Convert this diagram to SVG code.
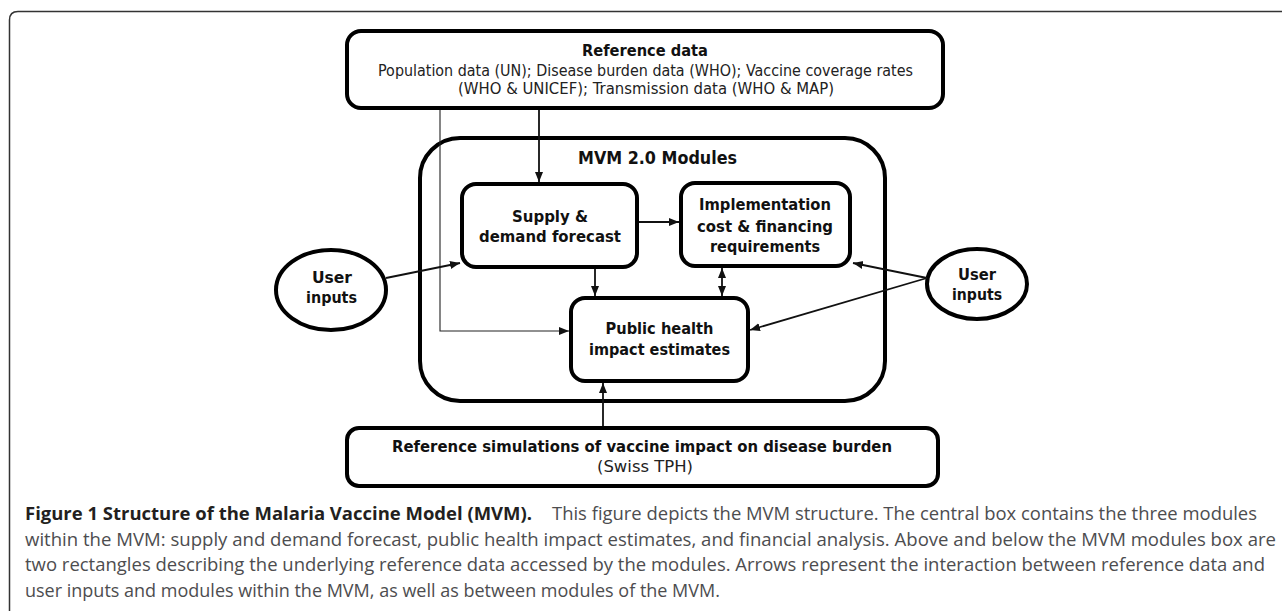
<svg xmlns="http://www.w3.org/2000/svg" width="1282" height="611" viewBox="0 0 1282 611">
<style>
.box{fill:#fff;stroke:#000;stroke-width:4}
.lbl{font-family:"DejaVu Sans","Liberation Sans",sans-serif;font-size:16px;font-weight:bold;fill:#111;text-anchor:middle}
.reg{font-family:"DejaVu Sans","Liberation Sans",sans-serif;font-size:15px;fill:#222;text-anchor:middle}
.con{fill:none;stroke:#111;stroke-width:1.8}
.thin{fill:none;stroke:#222;stroke-width:1.1}
.cap{font-family:"Open Sans","Liberation Sans",sans-serif;font-size:18px;fill:#4d4d4f}
.capb{font-family:"Open Sans","Liberation Sans",sans-serif;font-size:18px;font-weight:bold;fill:#231f20}
</style>
<defs>
<marker id="ah" markerUnits="userSpaceOnUse" markerWidth="10" markerHeight="10" viewBox="0 0 10 10" refX="10" refY="5" orient="auto">
<path d="M0,1 L10,5 L0,9 Z" fill="#111"/>
</marker>
<marker id="as" markerUnits="userSpaceOnUse" markerWidth="10" markerHeight="10" viewBox="0 0 10 10" refX="0" refY="5" orient="auto">
<path d="M10,1 L0,5 L10,9 Z" fill="#111"/>
</marker>
</defs>
<rect width="1282" height="611" fill="#fff"/>
<path d="M9.5 611 V20 Q9.5 11.5 18 11.5 H1282" fill="none" stroke="#333" stroke-width="1.5"/>

<g id="reference-data">
<rect class="box" x="347" y="31" width="596" height="77" rx="14"/>
<text class="lbl" x="645" y="56" textLength="126" lengthAdjust="spacingAndGlyphs">Reference data</text>
<text class="reg" x="645.5" y="76" textLength="535" lengthAdjust="spacingAndGlyphs">Population data (UN); Disease burden data (WHO); Vaccine coverage rates</text>
<text class="reg" x="646" y="94" textLength="376" lengthAdjust="spacingAndGlyphs">(WHO &amp; UNICEF); Transmission data (WHO &amp; MAP)</text>
</g>

<g id="mvm-modules">
<rect class="box" x="420" y="138" width="465" height="263" rx="40"/>
<text class="lbl" x="657.5" y="164" style="font-size:18px" textLength="159" lengthAdjust="spacingAndGlyphs">MVM 2.0 Modules</text>
</g>

<g id="supply-demand">
<rect class="box" x="462" y="184" width="175" height="83" rx="14"/>
<text class="lbl" x="550" y="222" textLength="76" lengthAdjust="spacingAndGlyphs">Supply &amp;</text>
<text class="lbl" x="550" y="242" textLength="142" lengthAdjust="spacingAndGlyphs">demand forecast</text>
</g>

<g id="implementation">
<rect class="box" x="681" y="183" width="169" height="83" rx="14"/>
<text class="lbl" x="765" y="210" textLength="132" lengthAdjust="spacingAndGlyphs">Implementation</text>
<text class="lbl" x="765" y="232" textLength="136" lengthAdjust="spacingAndGlyphs">cost &amp; financing</text>
<text class="lbl" x="765" y="252" textLength="110" lengthAdjust="spacingAndGlyphs">requirements</text>
</g>

<g id="public-health">
<rect class="box" x="571" y="298" width="177" height="83" rx="14"/>
<text class="lbl" x="659.5" y="334" textLength="108" lengthAdjust="spacingAndGlyphs">Public health</text>
<text class="lbl" x="659.5" y="355" textLength="141" lengthAdjust="spacingAndGlyphs">impact estimates</text>
</g>

<g id="user-inputs-left">
<ellipse class="box" cx="331" cy="290" rx="55" ry="40"/>
<text class="lbl" x="332" y="283" textLength="40" lengthAdjust="spacingAndGlyphs">User</text>
<text class="lbl" x="331.5" y="303" textLength="51" lengthAdjust="spacingAndGlyphs">inputs</text>
</g>

<g id="user-inputs-right">
<ellipse class="box" cx="977" cy="284" rx="50" ry="35"/>
<text class="lbl" x="977" y="280" textLength="38" lengthAdjust="spacingAndGlyphs">User</text>
<text class="lbl" x="977" y="300" textLength="50" lengthAdjust="spacingAndGlyphs">inputs</text>
</g>

<g id="reference-simulations">
<rect class="box" x="347" y="428" width="591" height="58" rx="12"/>
<text class="lbl" x="642" y="452" textLength="500" lengthAdjust="spacingAndGlyphs">Reference simulations of vaccine impact on disease burden</text>
<text class="reg" x="645" y="472" textLength="96" lengthAdjust="spacingAndGlyphs">(Swiss TPH)</text>
</g>

<g id="connectors">
<path class="thin" d="M440 110 V331 H569" marker-end="url(#ah)"/>
<path class="con" d="M539 110 V182" marker-end="url(#ah)"/>
<path class="con" d="M639 222 H679" marker-end="url(#ah)"/>
<path class="con" d="M595 269 V296" marker-end="url(#ah)"/>
<path class="con" d="M722 268 V296" marker-start="url(#as)" marker-end="url(#ah)"/>
<path class="con" d="M386 278 L460 263" marker-end="url(#ah)"/>
<path class="con" d="M927 278 L853 263" marker-end="url(#ah)"/>
<path class="con" d="M927 278 L750 330" marker-end="url(#ah)"/>
<path class="con" d="M603 426 V383" marker-end="url(#ah)"/>
</g>

<g id="caption">
<text class="capb" x="25" y="520" textLength="507" lengthAdjust="spacingAndGlyphs">Figure 1 Structure of the Malaria Vaccine Model (MVM).</text>
<text class="cap" x="552" y="520" textLength="705" lengthAdjust="spacingAndGlyphs">This figure depicts the MVM structure. The central box contains the three modules</text>
<text class="cap" x="25" y="546" textLength="1251" lengthAdjust="spacingAndGlyphs">within the MVM: supply and demand forecast, public health impact estimates, and financial analysis. Above and below the MVM modules box are</text>
<text class="cap" x="25" y="571" textLength="1240" lengthAdjust="spacingAndGlyphs">two rectangles describing the underlying reference data accessed by the modules. Arrows represent the interaction between reference data and</text>
<text class="cap" x="25" y="597">user inputs and modules within the MVM, as well as between modules of the MVM.</text>
</g>
</svg>
